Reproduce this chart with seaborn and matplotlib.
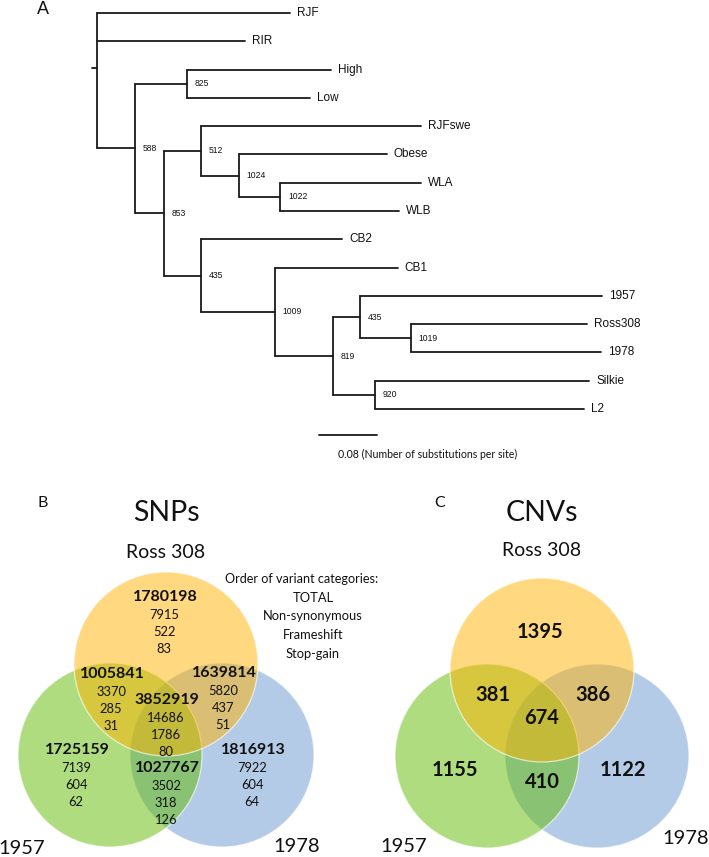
import numpy as np
import pandas as pd
import matplotlib
matplotlib.use("Agg")
import matplotlib.pyplot as plt
from matplotlib.patches import Circle
import seaborn as sns

# ---------------- data: phylogenetic tree ----------------
node = ["root", "RJF", "RIR", "n588", "n825", "High", "Low", "n853", "n512",
        "RJFswe", "n1024", "Obese", "n1022", "WLA", "WLB", "n435a", "CB2",
        "n1009", "CB1", "n819", "n435b", "1957", "n1019", "Ross308", "1978",
        "n920", "Silkie", "L2"]
parent = [None, "root", "root", "root", "n588", "n825", "n825", "n588", "n853",
          "n512", "n512", "n1024", "n1024", "n1022", "n1022", "n853", "n435a",
          "n435a", "n1009", "n1009", "n819", "n435b", "n435b", "n1019", "n1019",
          "n819", "n920", "n920"]
branch_length = [0.007, 0.266, 0.204, 0.052, 0.072, 0.199, 0.170, 0.041, 0.051,
                 0.303, 0.052, 0.204, 0.057, 0.194, 0.164, 0.051, 0.194,
                 0.101, 0.170, 0.081, 0.037, 0.334, 0.070, 0.243, 0.262,
                 0.058, 0.295, 0.288]
support = [None, None, None, 588, 825, None, None, 853, 512,
           None, 1024, None, 1022, None, None, 435, None,
           1009, None, 819, 435, None, 1019, None, None,
           920, None, None]
scale_bar_length = 0.08
scale_bar_label = "0.08 (Number of substitutions per site)"

# ---------------- data: Venn diagrams ----------------
venn_sets = ["Ross 308", "1957", "1978"]
# regions: Ross only, Ross&1957, Ross&1978, all three, 1957 only, 1957&1978, 1978 only
snp_total = [1780198, 1005841, 1639814, 3852919, 1725159, 1027767, 1816913]
snp_nonsyn = [7915, 3370, 5820, 14686, 7139, 3502, 7922]
snp_frameshift = [522, 285, 437, 1786, 604, 318, 604]
snp_stopgain = [83, 31, 51, 80, 62, 126, 64]
cnv_total = [1395, 381, 386, 674, 1155, 410, 1122]
legend_title = "Order of variant categories:"
legend_items = ["TOTAL", "Non-synonymous", "Frameshift", "Stop-gain"]

# ---------------- style ----------------
sns.set_theme(style="white")
plt.rcParams["font.family"] = ["Liberation Sans", "DejaVu Sans"]
VENN_FONT = ["Lato", "DejaVu Sans"]

W, H = 709, 857
fig = plt.figure(figsize=(W / 100, H / 100), dpi=100)

# ---------------- tree ----------------
px_per_unit = 725.0
root_px_x = 97.0
leaf0_px_y = 13.0
leaf_step_px = 28.29

children = {n: [] for n in node}
for n, p in zip(node, parent):
    if p is not None:
        children[p].append(n)
blen = dict(zip(node, branch_length))
xpos = {}
for n, p in zip(node, parent):
    xpos[n] = 0.0 if p is None else xpos[p] + blen[n]
leaves = [n for n in node if not children[n]]
ypos = {n: float(i) for i, n in enumerate(leaves)}
for n in reversed(node):
    if children[n]:
        ypos[n] = float(np.mean([ypos[c] for c in children[n]]))

rows = []
seg = 0
for n, p in zip(node, parent):
    if p is None:
        rows += [(seg, -blen[n], ypos[n]), (seg, 0.0, ypos[n])]
    else:
        rows += [(seg, xpos[p], ypos[n]), (seg, xpos[n], ypos[n])]
    seg += 1
    if children[n]:
        ys = [ypos[c] for c in children[n]]
        rows += [(seg, xpos[n], min(ys)), (seg, xpos[n], max(ys))]
        seg += 1
# scale bar
sb_x0 = (319 - root_px_x) / px_per_unit
sb_y = (435 - leaf0_px_y) / leaf_step_px
rows += [(seg, sb_x0, sb_y), (seg, sb_x0 + scale_bar_length, sb_y)]
df_tree = pd.DataFrame(rows, columns=["seg", "x", "y"])

ax_t = fig.add_axes([0, 0, 1, 1])
sns.lineplot(data=df_tree, x="x", y="y", units="seg", estimator=None, sort=False,
             color="#1a1a1a", linewidth=1.3, ax=ax_t, legend=False)
ax_t.set_xlim(-root_px_x / px_per_unit, (W - root_px_x) / px_per_unit)
ax_t.set_ylim((H - leaf0_px_y) / leaf_step_px, -leaf0_px_y / leaf_step_px)
ax_t.axis("off")
ax_t.patch.set_alpha(0)

for n in leaves:
    ax_t.annotate(n, (xpos[n], ypos[n]), xytext=(5, 0), textcoords="offset points",
                  ha="left", va="center", fontsize=8.5, color="#111111")
for n, s in zip(node, support):
    if s is not None:
        ax_t.annotate(str(s), (xpos[n], ypos[n]), xytext=(5.5, 0), textcoords="offset points",
                      ha="left", va="center", fontsize=6.2, color="#111111")
ax_t.annotate(scale_bar_label, (sb_x0, sb_y), xytext=(14, -14), textcoords="offset points",
              ha="left", va="center", fontsize=7.6, family=VENN_FONT, color="#111111")
ax_t.text(43 / W, 1 - 9 / H, "A", transform=fig.transFigure, ha="center", va="center",
          fontsize=13, color="#111111")

# ---------------- Venn diagrams ----------------
ax_v = fig.add_axes([0, 0, 1, 1])
ax_v.set_xlim(0, W)
ax_v.set_ylim(H, 0)
ax_v.axis("off")
ax_v.patch.set_alpha(0)

base_cols = {"1978": (0.42, 0.60, 0.82), "1957": (0.38, 0.73, 0.0), "Ross 308": (1.0, 0.70, 0.0)}
draw_order = ["1978", "1957", "Ross 308"]
R = 92


def venn(cx, cy_top, cy_bottom, dx, title, title_y, set_y, bottom_labels):
    centers = {"Ross 308": (cx, cy_top), "1957": (cx - dx, cy_bottom), "1978": (cx + dx, cy_bottom)}
    for i, s in enumerate(draw_order):
        c = base_cols[s]
        ax_v.add_patch(Circle(centers[s], R, facecolor=(*c, 0.5),
                              edgecolor=(1, 1, 1, 0.65), linewidth=0.9, zorder=2 + i))
    ax_v.text(cx, title_y, title, ha="center", va="center", fontsize=20.5,
              family=VENN_FONT, color="#111111", zorder=10)
    ax_v.text(cx, set_y, "Ross 308", ha="center", va="center", fontsize=14,
              family=VENN_FONT, color="#111111", zorder=10)
    for (tx, ty), lab in zip(bottom_labels, ["1957", "1978"]):
        ax_v.text(tx, ty, lab, ha="center", va="center", fontsize=14.5,
                  family=VENN_FONT, color="#111111", zorder=10)


# SNPs
venn(166, 664, 755, 56, "SNPs", 513, 553, [(22, 849), (297, 846)])
snp_anchor = [(165, 597), (112, 674), (224, 673), (167, 700), (77, 750), (167, 768), (253, 750)]
for (ax_, ay), t, a, b, c in zip(snp_anchor, snp_total, snp_nonsyn, snp_frameshift, snp_stopgain):
    ax_v.text(ax_, ay, str(t), ha="center", va="center", fontsize=11.5, fontweight="bold",
              family=VENN_FONT, color="#111111", zorder=10)
    for k, v in enumerate([a, b, c]):
        ax_v.text(ax_ - 1, ay + 18 + 17 * k, str(v), ha="center", va="center", fontsize=9.3,
                  family=VENN_FONT, color="#111111", zorder=10)
ax_v.text(302, 579, legend_title, ha="center", va="center", fontsize=9.1,
          family=VENN_FONT, color="#111111", zorder=10)
for k, item in enumerate(legend_items):
    ax_v.text(313, 598 + 18.5 * k, item, ha="center", va="center", fontsize=9.3,
              family=VENN_FONT, color="#111111", zorder=10)
ax_v.text(43, 503, "B", ha="center", va="center", fontsize=11.5,
          family=VENN_FONT, color="#111111")

# CNVs
venn(542, 670, 756, 55, "CNVs", 513, 550, [(404, 846), (686, 839)])
cnv_anchor = [(540, 632), (493, 695), (593, 695), (542, 718), (455, 770), (542, 782), (623, 770)]
for (ax_, ay), t in zip(cnv_anchor, cnv_total):
    ax_v.text(ax_, ay, str(t), ha="center", va="center", fontsize=14.5, fontweight="bold",
              family=VENN_FONT, color="#111111", zorder=10)
ax_v.text(440, 503, "C", ha="center", va="center", fontsize=11.5,
          family=VENN_FONT, color="#111111")

fig.savefig("out.png", dpi=100)
